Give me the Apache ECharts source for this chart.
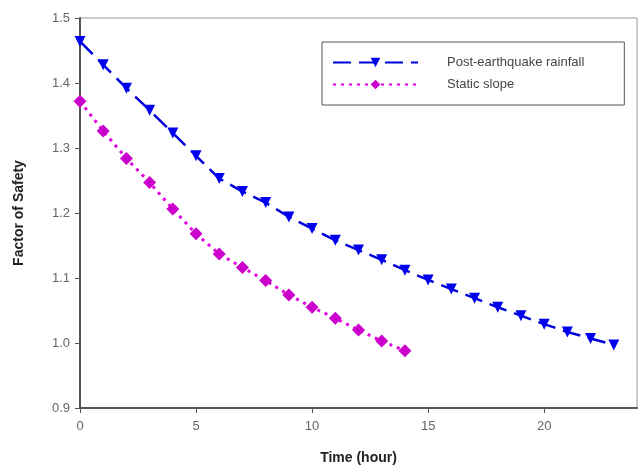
<!DOCTYPE html>
<html><head><meta charset="utf-8">
<script src="https://cdn.jsdelivr.net/npm/echarts@6/dist/echarts.min.js"></script>
<style>html,body{margin:0;padding:0;background:#fff}#c{width:641px;height:475px}</style>
</head><body><div id="c"></div>
<script>
const timeHours = [0,1,2,3,4,5,6,7,8,9,10,11,12,13,14,15,16,17,18,19,20,21,22,23];
const postEarthquake = [1.464,1.428,1.392,1.358,1.323,1.288,1.253,1.233,1.216,1.194,1.176,1.158,1.143,1.128,1.112,1.097,1.083,1.069,1.055,1.042,1.029,1.017,1.007,0.997];
const staticSlope = [1.372,1.326,1.284,1.247,1.206,1.168,1.137,1.116,1.096,1.074,1.055,1.038,1.020,1.003,0.988];
const xTicks = [0,5,10,15,20];
const seriesNames = ['Post-earthquake rainfall','Static slope'];

const chart = echarts.init(document.getElementById('c'));
const font = 'Liberation Sans, Arial, sans-serif';
chart.setOption({
  animation:false,
  backgroundColor:'#fff',
  grid:{left:80,top:18,right:4,bottom:67,show:true,borderColor:'#999',borderWidth:1},
  legend:{
    left:322, top:42, orient:'vertical',
    data:seriesNames,
    backgroundColor:'#fff',
    borderColor:'#555', borderWidth:1,
    padding:[14,40,14,10], itemGap:9,
    itemWidth:85, itemHeight:12,
    textStyle:{fontFamily:font,fontSize:13,color:'#444',padding:[0,0,0,24]}
  },
  xAxis:{
    type:'value', min:0, max:24,
    name:'Time (hour)', nameLocation:'middle', nameGap:43,
    nameTextStyle:{fontFamily:font,fontSize:14,fontWeight:'bold',color:'#222'},
    axisLine:{lineStyle:{color:'#555',width:2}},
    axisTick:{customValues:xTicks,length:5,lineStyle:{color:'#555'}},
    axisLabel:{customValues:xTicks,fontFamily:font,fontSize:13,color:'#666',margin:12},
    splitLine:{show:false}
  },
  yAxis:{
    type:'value', min:0.9, max:1.5, interval:0.1,
    name:'Factor of Safety', nameLocation:'middle', nameGap:54,
    nameTextStyle:{fontFamily:font,fontSize:14,fontWeight:'bold',color:'#222'},
    axisLine:{show:true,lineStyle:{color:'#555',width:2}},
    axisTick:{show:true,length:5,lineStyle:{color:'#555'}},
    axisLabel:{fontFamily:font,fontSize:13,color:'#666',margin:10,formatter:v=>v.toFixed(1)},
    splitLine:{show:false}
  },
  series:[
    {name:seriesNames[0],type:'line',data:timeHours.map((t,i)=>[t,postEarthquake[i]]),
     symbol:'triangle',symbolRotate:180,symbolSize:11,
     itemStyle:{color:'#0000ee'},
     lineStyle:{color:'#0000dd',width:2.5,type:[18,8]}},
    {name:seriesNames[1],type:'line',data:staticSlope.map((v,i)=>[timeHours[i],v]),
     symbol:'diamond',symbolSize:13,
     itemStyle:{color:'#cc00cc'},
     lineStyle:{color:'#e000e0',width:3,type:[3,5]}}
  ]
});
</script></body></html>
